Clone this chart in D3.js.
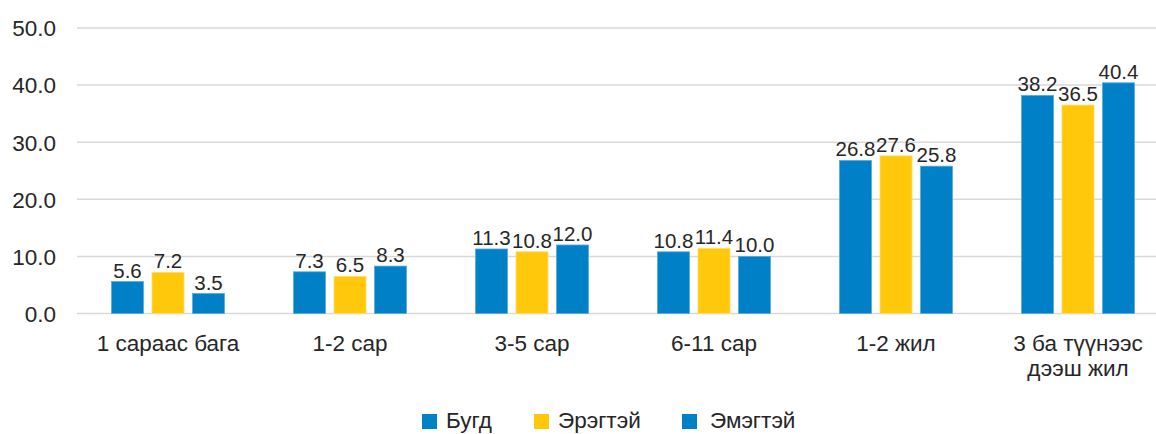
<!DOCTYPE html>
<html>
<head>
<meta charset="utf-8">
<script src="https://cdn.jsdelivr.net/npm/d3@7"></script>
<style>
  html, body { margin: 0; padding: 0; background: #fff; }
  svg { display: block; font-family: "Liberation Sans", Arial, sans-serif; }
</style>
</head>
<body>
<svg id="chart" width="1156" height="434"></svg>
<script>
// categories and series
const categories = ["1 сараас бага", "1-2 сар", "3-5 сар", "6-11 сар", "1-2 жил", "3 ба түүнээс|дээш жил"];
const seriesNames = ["Бугд", "Эрэгтэй", "Эмэгтэй"];
const total = [5.6, 7.3, 11.3, 10.8, 26.8, 38.2];
const male = [7.2, 6.5, 10.8, 11.4, 27.6, 36.5];
const female = [3.5, 8.3, 12.0, 10.0, 25.8, 40.4];
const yTicks = [0, 10, 20, 30, 40, 50];

const colors = ["#0080c6", "#ffc80b", "#0080c6"];
const strokes = ["#5aa9dc", "#ffdc66", "#5aa9dc"];
const textColor = "#262626";

const values = [total, male, female];
const rows = categories.map((c, i) => ({ cat: c, vals: values.map(v => v[i]) }));

const svg = d3.select("#chart");
const left = 77, band = 182;

const x = d3.scaleBand().domain(categories).range([left, left + band * categories.length]).padding(0);
const xs = d3.scaleBand().domain(seriesNames).range([0, band]).paddingInner(0.21).paddingOuter(0.852);
const y = d3.scaleLinear().domain([0, 50]).range([313.5, 28]);

// gridlines
svg.append("g").selectAll("line").data(yTicks).join("line")
  .attr("x1", left).attr("x2", 1156)
  .attr("y1", d => y(d)).attr("y2", d => y(d))
  .attr("stroke", "#d9d9d9").attr("stroke-width", 1.5);

// y axis labels
const yAxis = svg.append("g").attr("transform", "translate(56,0)")
  .call(d3.axisLeft(y).tickValues(yTicks).tickFormat(d3.format(".1f")).tickSize(0).tickPadding(0));
yAxis.select(".domain").remove();
yAxis.selectAll("text").attr("fill", textColor).style("font-size", "22.5px").attr("dy", "0.35em");

// bars
const groups = svg.append("g").selectAll("g").data(rows).join("g")
  .attr("transform", d => `translate(${x(d.cat)},0)`);

groups.selectAll("rect").data(d => d.vals.map((v, k) => ({ k, v }))).join("rect")
  .attr("x", d => xs(seriesNames[d.k]))
  .attr("width", xs.bandwidth())
  .attr("y", d => y(d.v))
  .attr("height", d => y(0) - y(d.v))
  .attr("fill", d => colors[d.k])
  .attr("stroke", d => strokes[d.k])
  .attr("stroke-width", 0.8);

groups.selectAll("text.val").data(d => d.vals.map((v, k) => ({ k, v }))).join("text")
  .attr("class", "val")
  .attr("x", d => xs(seriesNames[d.k]) + xs.bandwidth() / 2)
  .attr("y", d => y(d.v) - 4)
  .attr("text-anchor", "middle")
  .attr("fill", textColor)
  .style("font-size", "20.5px")
  .text(d => d3.format(".1f")(d.v));

// x labels
svg.append("g").selectAll("text").data(categories).join("text")
  .attr("x", d => x(d) + band / 2)
  .attr("y", 351)
  .attr("text-anchor", "middle")
  .attr("fill", textColor)
  .style("font-size", "22.5px")
  .each(function (d) {
    const parts = d.split("|");
    d3.select(this).selectAll("tspan").data(parts).join("tspan")
      .attr("x", x(d) + band / 2)
      .attr("dy", (p, i) => i === 0 ? 0 : 25)
      .text(p => p);
  });

// legend
const legendX = [422, 534, 682];
const legend = svg.append("g").selectAll("g").data(seriesNames).join("g")
  .attr("transform", (d, i) => `translate(${legendX[i]},414)`);
legend.append("rect").attr("width", 15).attr("height", 15)
  .attr("fill", (d, i) => colors[i]);
legend.append("text").attr("x", (d, i) => i === 2 ? 28 : 24).attr("y", 14)
  .attr("fill", textColor).style("font-size", "22.5px")
  .text(d => d);
</script>
</body>
</html>
